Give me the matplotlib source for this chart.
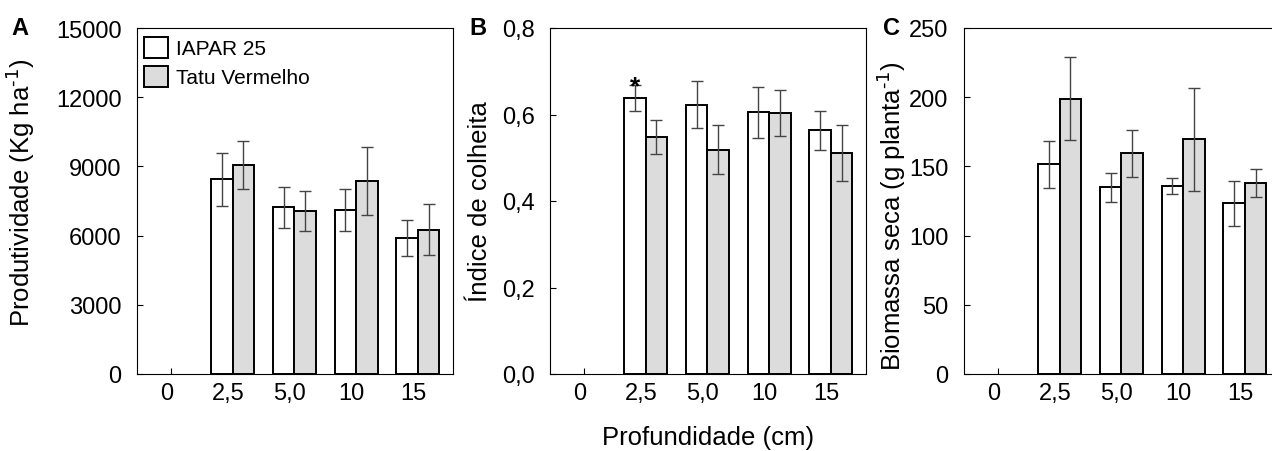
import numpy as np
import matplotlib
matplotlib.use("Agg")
import matplotlib.pyplot as plt
from matplotlib.transforms import ScaledTranslation

plt.rcParams["font.family"] = ["Liberation Sans", "DejaVu Sans"]
plt.rcParams["mathtext.default"] = "regular"

# data (first depth has no bars)
depths = ["0", "2,5", "5,0", "10", "15"]
cultivars = ["IAPAR 25", "Tatu Vermelho"]

prod_iapar = [np.nan, 8450, 7220, 7100, 5890]
prod_iapar_err = [np.nan, 1150, 880, 900, 780]
prod_tatu = [np.nan, 9060, 7060, 8380, 6260]
prod_tatu_err = [np.nan, 1030, 870, 1480, 1110]

ic_iapar = [np.nan, 0.639, 0.623, 0.605, 0.564]
ic_iapar_err = [np.nan, 0.030, 0.055, 0.059, 0.045]
ic_tatu = [np.nan, 0.548, 0.519, 0.603, 0.511]
ic_tatu_err = [np.nan, 0.040, 0.056, 0.053, 0.064]

bio_iapar = [np.nan, 151.7, 134.9, 136.0, 123.3]
bio_iapar_err = [np.nan, 17.0, 10.5, 5.8, 16.5]
bio_tatu = [np.nan, 199.0, 159.6, 169.5, 138.0]
bio_tatu_err = [np.nan, 30.0, 17.0, 37.5, 10.0]

W, H = 1272, 452
fig = plt.figure(figsize=(W / 100, H / 100), dpi=100)

bw = 0.35
grey = "#dcdcdc"
errc = "#444444"


def panel(left_px, letter, a, a_err, b, b_err, ylim, yticks, yticklabels,
          ylabel, lab_x, lab_y):
    ax = fig.add_axes([left_px / W, 1 - 375 / H, 316 / W, 346 / H])
    x = np.arange(len(depths))
    ax.bar(x - bw / 2, a, bw, color="white", edgecolor="black", linewidth=1.4,
           label=cultivars[0], zorder=2)
    ax.bar(x + bw / 2, b, bw, color=grey, edgecolor="black", linewidth=1.4,
           label=cultivars[1], zorder=2)
    ax.errorbar(x - bw / 2, a, yerr=a_err, fmt="none", ecolor=errc,
                elinewidth=1.0, capsize=4.5, capthick=1.0, zorder=3)
    ax.errorbar(x + bw / 2, b, yerr=b_err, fmt="none", ecolor=errc,
                elinewidth=1.0, capsize=4.5, capthick=1.0, zorder=3)
    ax.set_xlim(-0.55, 4.57)
    ax.set_ylim(*ylim)
    ax.set_xticks(x)
    ax.set_xticklabels(depths)
    ax.set_yticks(yticks)
    ax.set_yticklabels(yticklabels)
    ax.tick_params(axis="both", direction="in", length=4.5, width=0.8,
                   labelsize=17)
    ax.tick_params(axis="x", pad=5.5)
    ax.tick_params(axis="y", pad=11)
    for lab in ax.get_xticklabels():
        lab.set_transform(lab.get_transform() +
                          ScaledTranslation(-0.045, 0, fig.dpi_scale_trans))
    for s in ax.spines.values():
        s.set_linewidth(0.8)
    ax.set_ylabel(ylabel, fontsize=18.5)
    ax.yaxis.set_label_coords(lab_x, lab_y)
    fig.text((left_px - 117) / W if letter == "A" else (left_px - 72) / W,
             1 - 35 / H, letter, fontsize=17, fontweight="bold",
             va="baseline", ha="center")
    return ax


axA = panel(137, "A", prod_iapar, prod_iapar_err, prod_tatu, prod_tatu_err,
            (0, 15000), [0, 3000, 6000, 9000, 12000, 15000],
            ["0", "3000", "6000", "9000", "12000", "15000"],
            r"Produtividade (Kg ha$^{\text{-1}}$)", -0.316, 0.526)
axA.legend(loc="upper left", bbox_to_anchor=(7 / 316, 1 - 9 / 346),
           frameon=False, fontsize=15, borderpad=0, handlelength=1.15,
           handleheight=1.15, handletextpad=0.4, labelspacing=0.36,
           borderaxespad=0)

axB = panel(550, "B", ic_iapar, ic_iapar_err, ic_tatu, ic_tatu_err,
            (0, 0.8), [0, 0.2, 0.4, 0.6, 0.8],
            ["0,0", "0,2", "0,4", "0,6", "0,8"],
            "Índice de colheita", -0.184, 0.5)
axB.annotate("*", xy=(1 - bw / 2, ic_iapar[1] + ic_iapar_err[1]),
             xytext=(0, -6), textcoords="offset points", ha="center",
             va="baseline", fontsize=19, fontweight="bold")

axC = panel(964, "C", bio_iapar, bio_iapar_err, bio_tatu, bio_tatu_err,
            (0, 250), [0, 50, 100, 150, 200, 250],
            ["0", "50", "100", "150", "200", "250"],
            r"Biomassa seca (g planta$^{\text{-1}}$)", -0.177, 0.46)

fig.text(708 / W, 1 - 445 / H, "Profundidade (cm)", fontsize=18.5,
         ha="center", va="baseline")

fig.savefig("out.png", dpi=100)
